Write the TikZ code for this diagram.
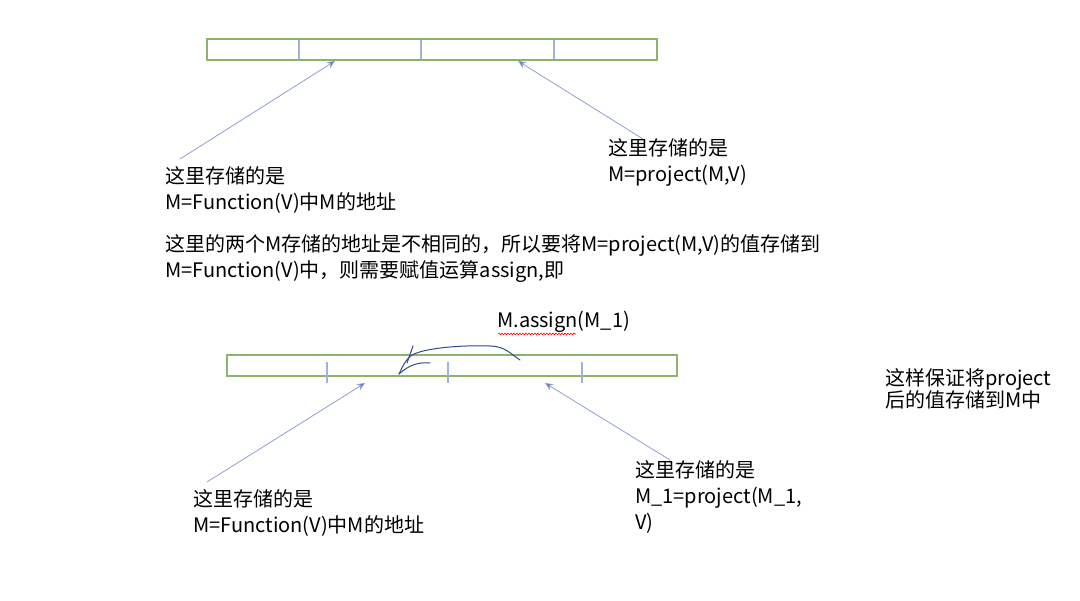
\documentclass[tikz,border=0pt]{standalone}
\usepackage{fontspec}
\setmainfont{Noto Sans CJK SC}
\usetikzlibrary{arrows.meta,decorations.pathmorphing}
\definecolor{bargreen}{HTML}{8AB46A}
\definecolor{divblue}{HTML}{9FB3D6}
\definecolor{arrblue}{HTML}{8F9FCF}
\definecolor{headblue}{HTML}{4F6FB5}
\definecolor{ink}{HTML}{2E4A8A}
\tikzset{
  bar/.style={draw=bargreen, line width=1.3pt},
  divider/.style={draw=divblue, line width=1.2pt},
  pointer/.style={draw=arrblue, line width=0.8pt, -{Stealth[length=8pt,width=7pt,fill=headblue]}},
  txt/.style={anchor=west, align=left, inner sep=0pt, font=\fontsize{20}{26}\selectfont},
  pen/.style={draw=ink, line width=1pt, line cap=round, line join=round}
}
\begin{document}
\begin{tikzpicture}[x=1pt,y=-1pt]
\useasboundingbox (0,0) rectangle (1080,601);
% top bar
\draw[bar] (207,39) rectangle (657,60);
\draw[divider] (299,40) -- (299,59);
\draw[divider] (421,40) -- (421,59);
\draw[divider] (554,40) -- (554,59);
\coordinate (t1) at (335,61);
\coordinate (t2) at (518,61);
% top texts
\node[txt] (a) at (165,190) {这里存储的是\\M=Function(V)中M的地址};
\node[txt] (b) at (608,162) {这里存储的是\\M=project(M,V)};
\coordinate (as) at (180,159);
\coordinate (bs) at (643,139);
\draw[pointer] (as) -- (t1);
\draw[pointer] (bs) -- (t2);
% paragraph
\node[txt] (p) at (165,259) {这里的两个M存储的地址是不相同的，所以要将M=project(M,V)的值存储到\\M=Function(V)中，则需要赋值运算assign,即};
% assign
\node[txt] (m) at (497,322) {M.assign(M\_1)};
\draw[red, line width=0.6pt, decorate, decoration={snake, amplitude=0.9pt, segment length=3pt}] (498,334) -- (576,334);
% bottom bar
\draw[bar] (227,355) rectangle (677,376);
\draw[divider] (327,362) -- (327,383);
\draw[divider] (448,362) -- (448,383);
\draw[divider] (582,362) -- (582,383);
\coordinate (u1) at (365,383);
\coordinate (u2) at (545,383);
% hand drawing
\draw[pen] (520,360) .. controls (512,355) and (505,346) .. (490,346) .. controls (460,345) and (425,348) .. (412,355) .. controls (405,360) and (402,368) .. (399,374);
\draw[pen] (413,346) -- (407,363);
\draw[pen] (430,363) .. controls (420,362) and (410,364) .. (399,374);
% bottom texts
\node[txt] (c) at (193,513) {这里存储的是\\M=Function(V)中M的地址};
\node[txt] (d) at (635,497) {这里存储的是\\M\_1=project(M\_1,\\V)};
\node[txt, font=\fontsize{20}{21}\selectfont] (e) at (885,389) {这样保证将project\\后的值存储到M中};
\coordinate (cs) at (207,482);
\coordinate (ds) at (670,460);
\draw[pointer] (cs) -- (u1);
\draw[pointer] (ds) -- (u2);
\end{tikzpicture}
\end{document}
